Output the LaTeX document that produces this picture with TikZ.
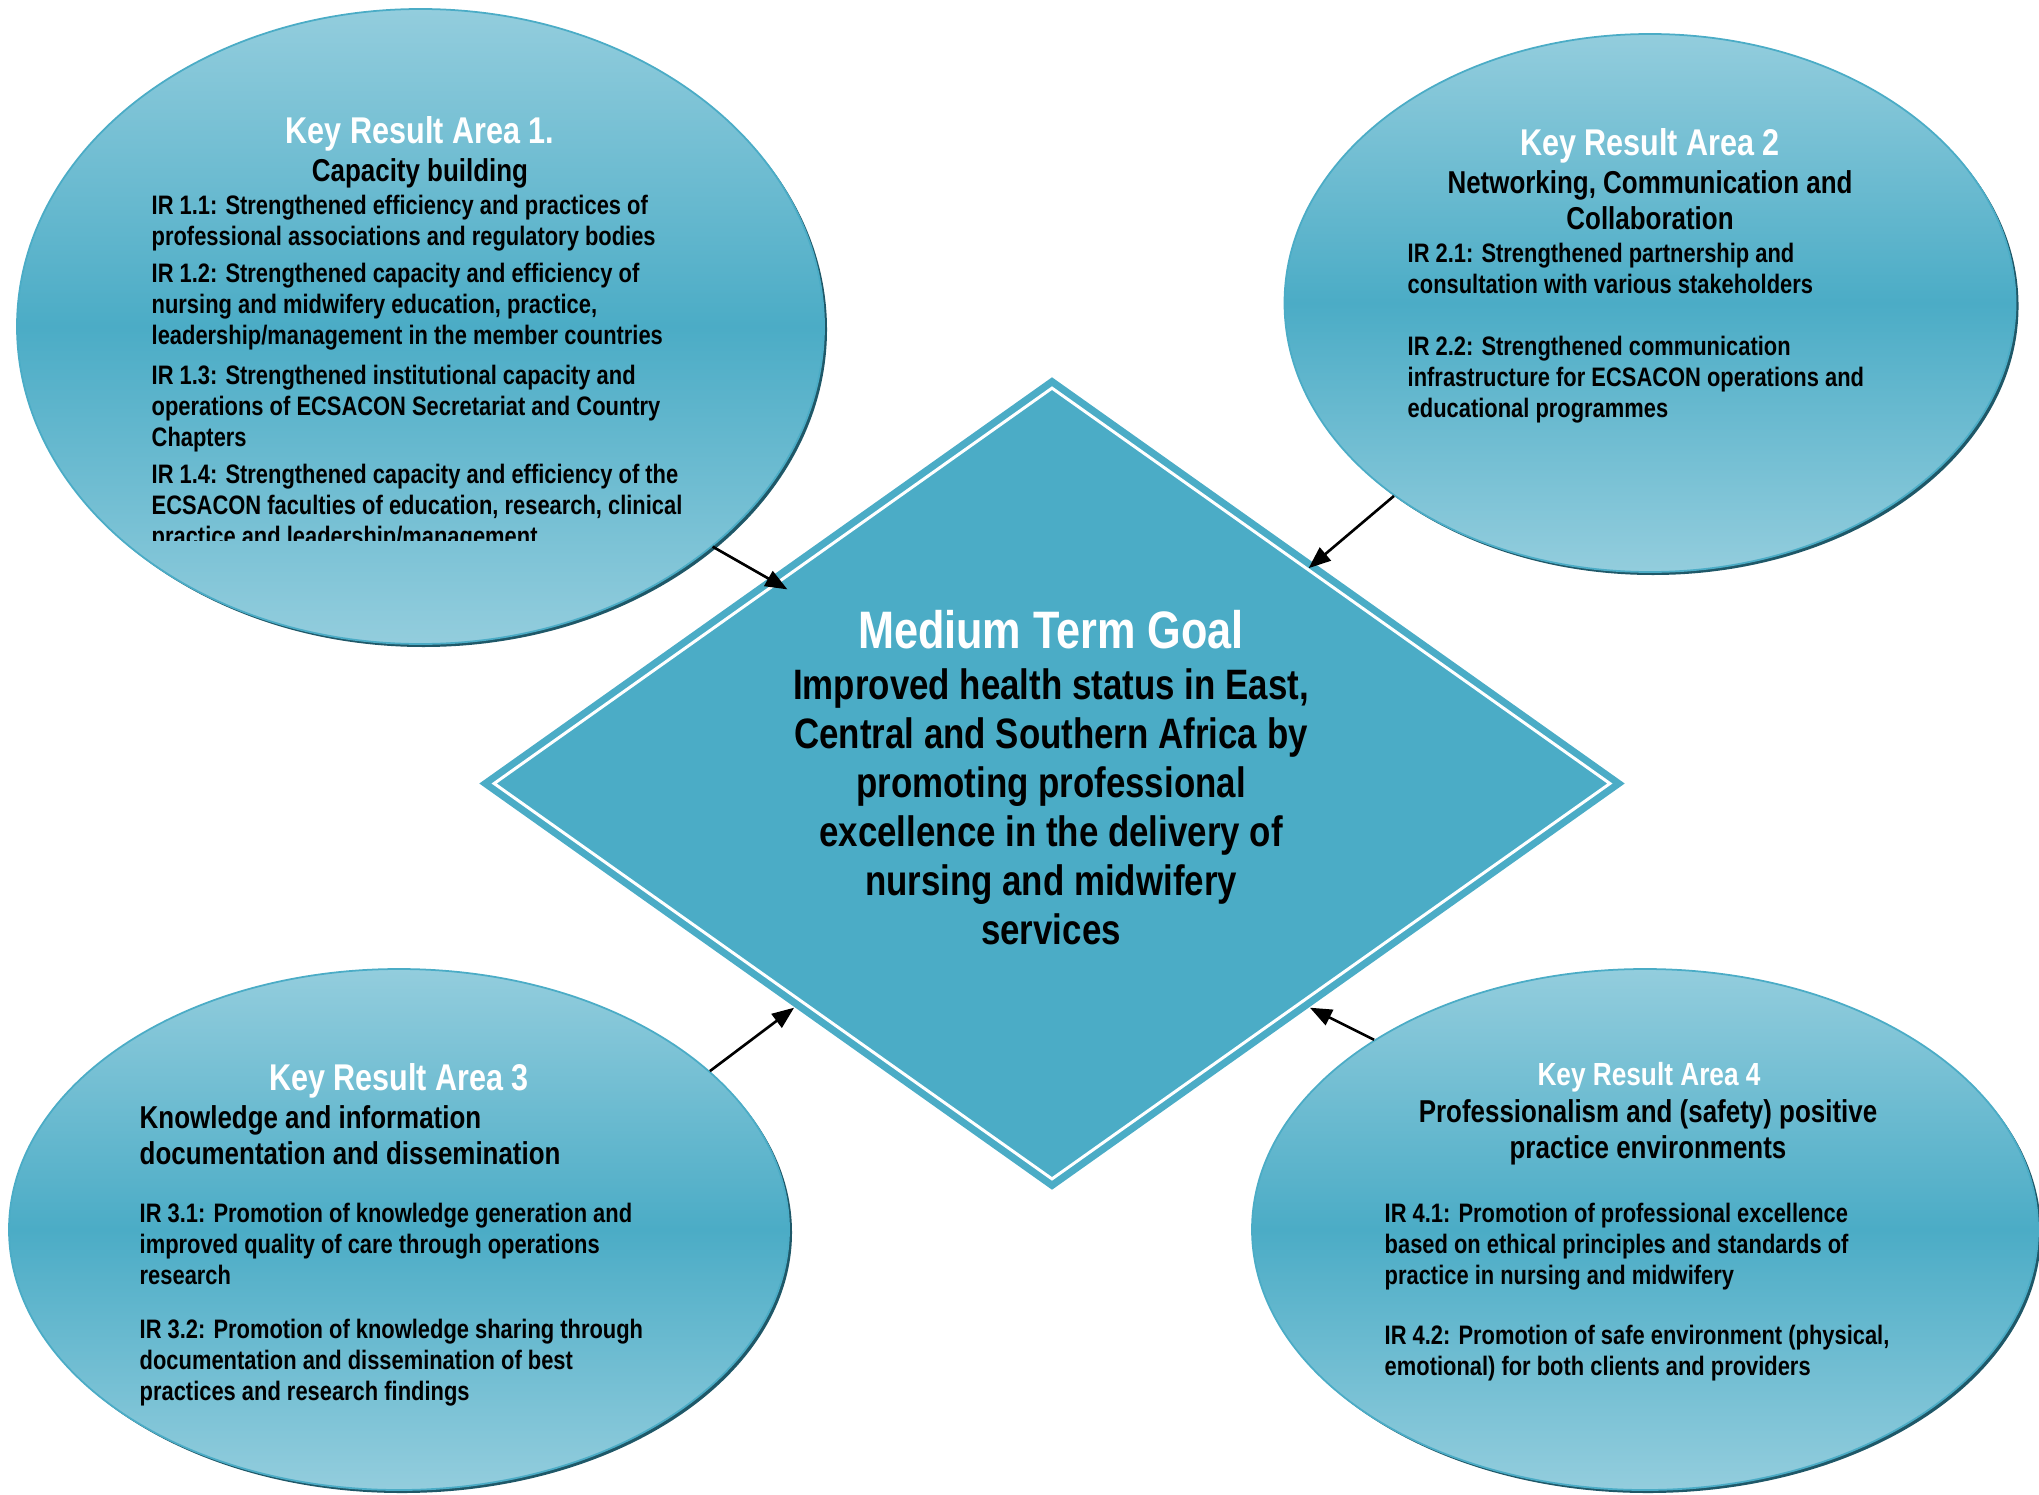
\documentclass[tikz,border=0pt]{standalone}
\usepackage{fontspec}
\setmainfont{Liberation Sans}[FakeStretch=0.82]
\usetikzlibrary{arrows.meta,shapes.geometric,shadows}

\definecolor{krateal}{RGB}{75,172,198}
\definecolor{kralight}{RGB}{147,205,221}
\definecolor{krashadow}{RGB}{31,88,104}

\begin{document}
\begin{tikzpicture}[
    kra/.style={ellipse, inner sep=0pt, draw=krateal, line width=0.5pt,
        top color=kralight, bottom color=kralight, middle color=krateal,
        drop shadow={shadow xshift=0.03cm, shadow yshift=-0.03cm, fill=krashadow, opacity=1}},
    kratitle/.style={anchor=base, inner sep=0pt, text=white, font=\bfseries\fontsize{10.6}{12}\selectfont},
    krahead/.style={anchor=north, align=center, inner sep=0pt, font=\bfseries\fontsize{9}{10.24}\selectfont},
    krabody/.style={anchor=north west, align=left, inner sep=0pt, font=\bfseries\fontsize{7.6}{8.82}\selectfont},
    feeds/.style={-{Triangle[length=0.22cm, width=0.17cm]}, line width=0.75pt, black}
]
        \useasboundingbox (0,0) rectangle (20.39,14.94);

        % goal diamond with its white inner rim
        \node [diamond, fill=krateal, inner sep=0pt, minimum width=11.46cm, minimum height=8.13cm] (goal) at (10.52,7.105) {};
        \node [diamond, draw=white, line width=0.03cm, inner sep=0pt, minimum width=11.17cm, minimum height=7.92cm] (goalin) at (goal.center) {};

        \node [anchor=base, inner sep=0pt, text=white, font=\bfseries\fontsize{15}{17}\selectfont] (goaltitle) at (10.51,8.46) {Medium Term Goal};
        \node [anchor=north, align=center, inner sep=0pt, font=\bfseries\fontsize{12.1}{13.94}\selectfont] (goaltext) at (10.51,8.26)
            {Improved health status in East,\\Central and Southern Africa by\\promoting professional\\excellence in the delivery of\\nursing and midwifery\\services};

        % the four key result areas
        \node [kra, minimum width=8.07cm, minimum height=6.35cm] (kra1) at (4.205,11.675) {};
        \node [kra, minimum width=7.31cm, minimum height=5.38cm] (kra2) at (16.50,11.91) {};
        \node [kra, minimum width=7.80cm, minimum height=5.21cm] (kra3) at (3.99,2.645) {};
        \node [kra, minimum width=7.86cm, minimum height=5.21cm] (kra4) at (16.45,2.645) {};

        \node [kratitle] (kra1title) at (4.20,13.50) {Key Result Area 1.};
        \node [krahead, anchor=base] (kra1head) at (4.20,13.125) {Capacity building};
        \begin{scope}
            \clip (1.40,9.54) rectangle (7.70,13.10);
            \node [krabody] (kra1body) at (1.51,13.00)
                {IR 1.1: Strengthened efficiency and practices of\\professional associations and regulatory bodies\\[1.7pt]
                 IR 1.2: Strengthened capacity and efficiency of\\nursing and midwifery education, practice,\\leadership/management in the member countries\\[2.6pt]
                 IR 1.3: Strengthened institutional capacity and\\operations of ECSACON Secretariat and Country\\Chapters\\[1.7pt]
                 IR 1.4: Strengthened capacity and efficiency of the\\ECSACON faculties of education, research, clinical\\practice and leadership/management};
        \end{scope}

        \node [kratitle] (kra2title) at (16.50,13.38) {Key Result Area 2};
        \node [krahead] (kra2head) at (16.50,13.24) {Networking, Communication and\\Collaboration};
        \node [krabody] (kra2body) at (14.07,12.52)
            {IR 2.1: Strengthened partnership and\\consultation with various stakeholders\\[8.82pt]
             IR 2.2: Strengthened communication\\infrastructure for ECSACON operations and\\educational programmes};

        \node [kratitle] (kra3title) at (3.99,4.04) {Key Result Area 3};
        \node [krahead, anchor=north west, align=left] (kra3head) at (1.39,3.89) {Knowledge and information\\documentation and dissemination};
        \node [krabody] (kra3body) at (1.39,2.92)
            {IR 3.1: Promotion of knowledge generation and\\improved quality of care through operations\\research\\[6.8pt]
             IR 3.2: Promotion of knowledge sharing through\\documentation and dissemination of best\\practices and research findings};

        \node [kratitle, font=\bfseries\fontsize{9.1}{11}\selectfont] (kra4title) at (16.49,4.085) {Key Result Area 4};
        \node [krahead] (kra4head) at (16.48,3.95) {Professionalism and (safety) positive\\practice environments};
        \node [krabody] (kra4body) at (13.84,2.92)
            {IR 4.1: Promotion of professional excellence\\based on ethical principles and standards of\\practice in nursing and midwifery\\[8.5pt]
             IR 4.2: Promotion of safe environment (physical,\\emotional) for both clients and providers};

        % every area feeds the goal
        \draw [feeds, shorten >=-0.14cm] (kra1.-37) -- (goalin.144.3);
        \draw [feeds] (kra2.-143.6) -- (goalin.40.3);
        \draw [feeds] (kra3.27) -- (goal.-139.5);
        \draw [feeds] (kra4.145.4) -- (goal.-41.5);

\end{tikzpicture}
\end{document}
